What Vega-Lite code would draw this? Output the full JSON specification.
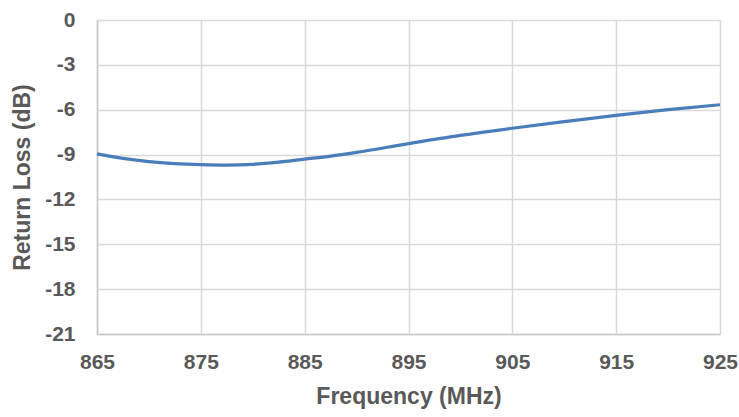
{
  "$schema": "https://vega.github.io/schema/vega-lite/v6.json",
  "autosize": {"type": "none"},
  "padding": {"left": 97, "top": 20, "right": 19, "bottom": 83},
  "width": 623,
  "height": 314,
  "background": "white",
  "data": {"values": [
    {"f": 865, "rl": -8.95},
    {"f": 867.5, "rl": -9.25},
    {"f": 870, "rl": -9.47},
    {"f": 872.5, "rl": -9.6},
    {"f": 875, "rl": -9.67},
    {"f": 877.5, "rl": -9.7},
    {"f": 880, "rl": -9.65},
    {"f": 882.5, "rl": -9.5},
    {"f": 885, "rl": -9.3},
    {"f": 887.5, "rl": -9.1},
    {"f": 890, "rl": -8.85},
    {"f": 895, "rl": -8.27},
    {"f": 900, "rl": -7.72},
    {"f": 905, "rl": -7.24},
    {"f": 910, "rl": -6.8},
    {"f": 915, "rl": -6.38},
    {"f": 920, "rl": -6.0},
    {"f": 925, "rl": -5.67}
  ]},
  "config": {
    "view": {"stroke": null},
    "font": "Liberation Sans",
    "axis": {
      "labelFont": "Liberation Sans",
      "labelFontWeight": 700,
      "labelFontSize": 21,
      "labelColor": "#595959",
      "titleFont": "Liberation Sans",
      "titleFontWeight": 700,
      "titleFontSize": 23,
      "titleColor": "#595959",
      "gridColor": "#d9d9d9",
      "gridWidth": 1.5,
      "domainColor": "#c8c8c8",
      "domainWidth": 1.5,
      "ticks": false
    }
  },
  "mark": {"type": "line", "interpolate": "monotone", "color": "#4a7ebb", "strokeWidth": 3.2},
  "encoding": {
    "x": {
      "field": "f", "type": "quantitative",
      "scale": {"domain": [865, 925], "nice": false, "zero": false},
      "axis": {"values": [865, 875, 885, 895, 905, 915, 925], "labelPadding": 17, "title": "Frequency (MHz)", "titlePadding": 13, "labelFlush": false, "labelExpr": "toString(datum.value)"}
    },
    "y": {
      "field": "rl", "type": "quantitative",
      "scale": {"domain": [-21, 0], "nice": false},
      "axis": {"values": [-21, -18, -15, -12, -9, -6, -3, 0], "labelPadding": 22, "title": "Return Loss (dB)", "titlePadding": 10, "labelFlush": false, "labelExpr": "toString(datum.value)"}
    }
  }
}
